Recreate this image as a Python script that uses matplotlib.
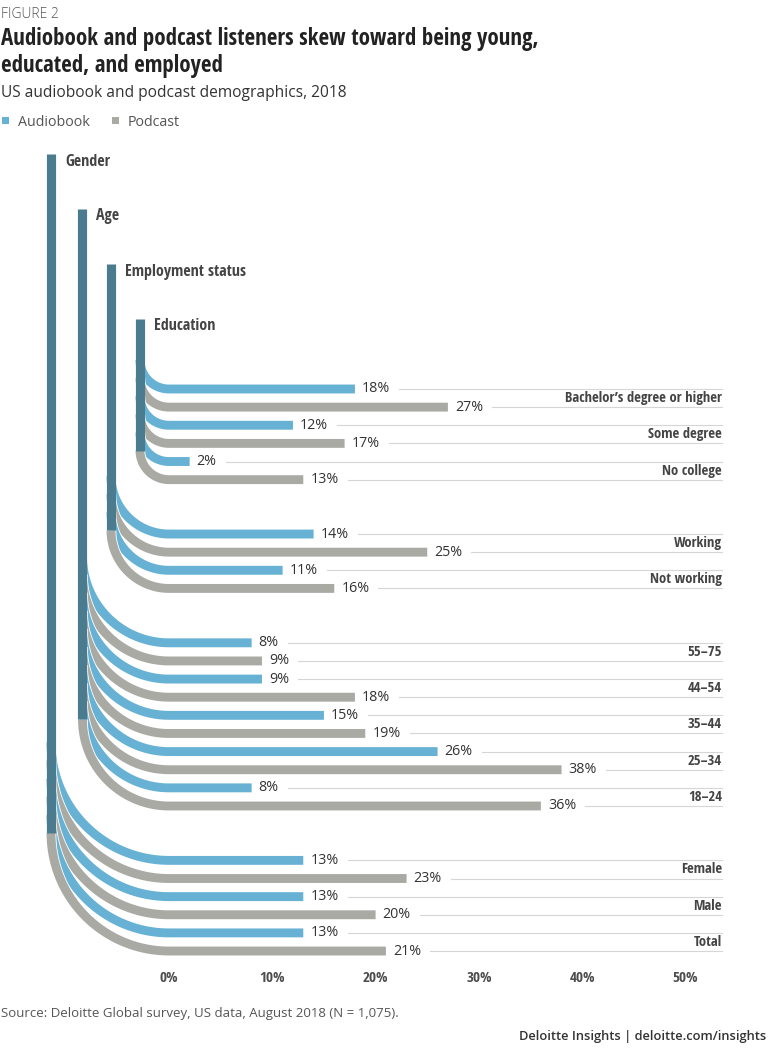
import os

import matplotlib
matplotlib.use("Agg")
import matplotlib.pyplot as plt
import matplotlib.patheffects as pe
import numpy as np
from matplotlib import font_manager
from matplotlib.font_manager import FontProperties
from matplotlib.patches import Rectangle


# ---- data ----
edu_labels = ["Bachelor\u2019s degree or higher", "Some degree", "No college"]
edu_audio = [18, 12, 2]
edu_podcast = [27, 17, 13]

emp_labels = ["Working", "Not working"]
emp_audio = [14, 11]
emp_podcast = [25, 16]

age_labels = ["55\u201375", "44\u201354", "35\u201344", "25\u201334", "18\u201324"]
age_audio = [8, 9, 15, 26, 8]
age_podcast = [9, 18, 19, 38, 36]

gender_labels = ["Female", "Male", "Total"]
gender_audio = [13, 13, 13]
gender_podcast = [23, 20, 21]

group_names = ["Education", "Employment status", "Age", "Gender"]
group_labels = [edu_labels, emp_labels, age_labels, gender_labels]
group_audio = [edu_audio, emp_audio, age_audio, gender_audio]
group_podcast = [edu_podcast, emp_podcast, age_podcast, gender_podcast]

x_ticks = [0, 10, 20, 30, 40, 50]

# ---- style ----
AUDIO = "#67b2d4"
PODCAST = "#aaaaa5"
STEM = "#4a7b8f"
DARK = "#444444"
RULE = "#d6d6d6"

W, H = 768, 1049
PX_PCT = 10.33      # pixels per percentage point
X0 = 169            # pixel x of 0%
PX_SLOT = 18.13     # pixels per bar row
Y0 = 389            # pixel y of first row
RIGHT_PX = 722
STEM_PX = [140, 111, 82.5, 51]
STEM_TOP_PX = [319, 264, 209, 154]
BAR_LW = 6.4
STEM_LW = 6.6


def find_cond_bold():
    wanted = [
        ("opensans", "cond", "bold"),
        ("robotocondensed", "bold"),
        ("liberationsansnarrow", "bold"),
        ("dejavusanscondensed", "bold"),
    ]
    files = [f.fname for f in font_manager.fontManager.ttflist]
    for keys in wanted:
        for path in files:
            base = os.path.basename(path).lower().replace(" ", "").replace("_", "")
            if all(k in base for k in keys) and "italic" not in base and "oblique" not in base:
                return path
    return None


COND_PATH = find_cond_bold()


def cond(size):
    if COND_PATH:
        return FontProperties(fname=COND_PATH, size=size)
    return FontProperties(family="Open Sans", weight="bold", size=size * 0.85)


def body(size, weight="normal"):
    return FontProperties(family=["Open Sans", "DejaVu Sans"], weight=weight, size=size)


def fx(px):
    return px / W


def fy(py):
    return 1 - py / H


fig = plt.figure(figsize=(W / 100, H / 100), dpi=100)
fig.patch.set_facecolor("white")
ax = fig.add_axes([0, 0, 1, 1])
ax.set_xlim(-X0 / PX_PCT, (W - X0) / PX_PCT)
ax.set_ylim((H - Y0) / PX_SLOT, -Y0 / PX_SLOT)
ax.axis("off")

right_pct = (RIGHT_PX - X0) / PX_PCT

# ---- header ----
fig.text(fx(1), fy(14), "FIGURE 2", fontproperties=body(10, "light"),
         color="#555555", va="center", ha="left")
fig.text(fx(1), fy(45), "Audiobook and podcast listeners skew toward being young,",
         fontproperties=cond(16.5), color="#222222", va="baseline")
fig.text(fx(1), fy(72), "educated, and employed",
         fontproperties=cond(16.5), color="#222222", va="baseline")
fig.text(fx(1), fy(97), "US audiobook and podcast demographics, 2018",
         fontproperties=body(11.2), color="#333333", va="baseline")

fig.patches.append(Rectangle((fx(2), fy(124)), 7 / W, 7 / H, transform=fig.transFigure,
                             facecolor=AUDIO, edgecolor="none"))
fig.text(fx(18), fy(126), "Audiobook", fontproperties=body(10.3), color="#555555",
         va="baseline")
fig.patches.append(Rectangle((fx(112), fy(124)), 7 / W, 7 / H, transform=fig.transFigure,
                             facecolor=PODCAST, edgecolor="none"))
fig.text(fx(128), fy(126), "Podcast", fontproperties=body(10.3), color="#555555",
         va="baseline")

# ---- bars ----
value_texts = []
row = 0
z = 10
t = np.linspace(0, np.pi / 2, 80)
for k, name in enumerate(group_names):
    labels = group_labels[k]
    r_px = X0 - STEM_PX[k]
    rx = r_px / PX_PCT
    ry = r_px / PX_SLOT
    sx = (STEM_PX[k] - X0) / PX_PCT
    top = (STEM_TOP_PX[k] - Y0) / PX_SLOT

    last = row
    for i, lab in enumerate(labels):
        for val, col in ((group_audio[k][i], AUDIO), (group_podcast[k][i], PODCAST)):
            s = row
            # quarter turn from the stem, then straight out to the value
            xs = np.concatenate([-rx * np.cos(t), [val]])
            ys = np.concatenate([s - ry + ry * np.sin(t), [s]])
            ax.plot(xs, ys, color=col, lw=BAR_LW, solid_capstyle="butt",
                    solid_joinstyle="round", zorder=z,
                    path_effects=[pe.Stroke(linewidth=BAR_LW + 1.2, foreground="white"),
                                  pe.Normal()])
            z += 1
            tx = ax.text(val + 7 / PX_PCT, s, f"{val}%", fontproperties=body(10.3),
                         color="#333333", va="center", ha="left", zorder=5)
            value_texts.append((tx, s))
            last = row
            row += 1
        ax.text(right_pct, row - 1.5, lab, fontproperties=cond(10.5), color=DARK,
                ha="right", va="center", zorder=5)

    ax.plot([sx, sx], [top, last - ry], color=STEM, lw=STEM_LW,
            solid_capstyle="butt", zorder=200)
    ax.text(sx + 14 / PX_PCT, top + 7.5 / PX_SLOT, name, fontproperties=cond(11.5),
            color=DARK, ha="left", va="center")
    row += 2

# ---- axis labels ----
tick_y = (978 - Y0) / PX_SLOT
for tk in x_ticks:
    ax.text(tk, tick_y, f"{tk}%", fontproperties=cond(11), color="#4d4d4d",
            ha="center", va="center")

# ---- rule lines after value labels ----
fig.canvas.draw()
renderer = fig.canvas.get_renderer()
inv = ax.transData.inverted()
for tx, s in value_texts:
    bb = tx.get_window_extent(renderer)
    x1 = inv.transform((bb.x1, bb.y0))[0]
    ax.plot([x1 + 9 / PX_PCT, right_pct], [s, s], color=RULE, lw=0.8, zorder=1)

# ---- footer ----
fig.text(fx(1), fy(1017), "Source: Deloitte Global survey, US data, August 2018 (N = 1,075).",
         fontproperties=body(9.5), color="#555555", va="baseline")
fig.text(fx(766), fy(1040), "Deloitte Insights | deloitte.com/insights",
         fontproperties=body(9.3, "semibold"), color="#333333", va="baseline", ha="right")

fig.savefig("out.png", dpi=100, facecolor="white")
plt.close(fig)
